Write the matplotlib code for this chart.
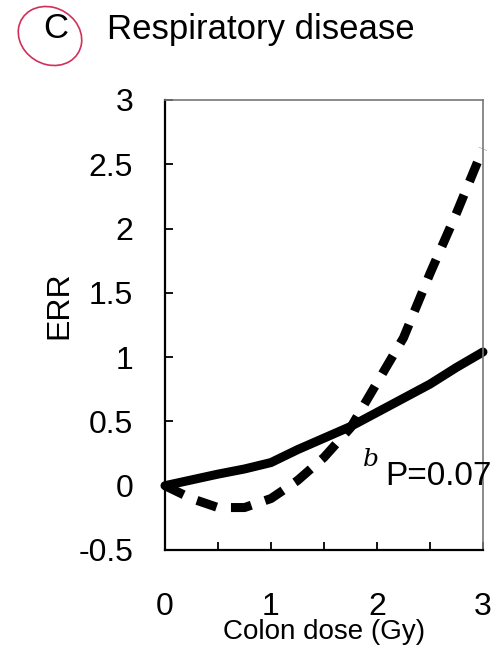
import matplotlib.pyplot as plt
from matplotlib.patches import Ellipse

# dose (Gy) and excess relative risk
dose = [0, 0.25, 0.5, 0.75, 1.0, 1.25, 1.5, 1.75, 2.0, 2.25, 2.5, 2.75, 3.0]
err_solid = [0, 0.045, 0.09, 0.13, 0.18, 0.28, 0.37, 0.46, 0.57, 0.68, 0.79, 0.92, 1.04]
err_dashed = [0, -0.1, -0.17, -0.17, -0.1, 0.04, 0.22, 0.45, 0.8, 1.15, 1.65, 2.12, 2.62]

yticks = [-0.5, 0, 0.5, 1, 1.5, 2, 2.5, 3]
ytick_labels = ['-0.5', '0', '0.5', '1', '1.5', '2', '2.5', '3']
xticks = [0, 0.5, 1, 1.5, 2, 2.5, 3]
xtick_labels = ['0', '', '1', '', '2', '', '3']

plt.rcParams['font.family'] = ['Liberation Sans', 'DejaVu Sans']

fig = plt.figure(figsize=(4.95, 6.6), dpi=100)
ax = fig.add_axes([0.3333, 0.1667, 0.6424, 0.6818])

ax.plot(dose, err_solid, color='black', lw=6.5, solid_capstyle='round', clip_on=False)
ax.plot(dose, err_dashed, color='black', lw=6.5, dashes=(2.3, 1.6),
        dash_capstyle='butt', clip_on=False)

ax.set_xlim(0, 3)
ax.set_ylim(-0.5, 3)
ax.set_yticks(yticks)
ax.set_yticklabels(ytick_labels)
ax.set_xticks(xticks)
ax.set_xticklabels(xtick_labels)
ax.tick_params(axis='y', direction='in', length=6, width=1.3, labelsize=23, pad=23)
ax.tick_params(axis='x', direction='in', length=6, width=1.3, labelsize=23, pad=30)

for side in ['left', 'bottom']:
    ax.spines[side].set_linewidth(1.6)
    ax.spines[side].set_color('black')
for side in ['top', 'right']:
    ax.spines[side].set_linewidth(1.2)
    ax.spines[side].set_color('#777777')

ax.set_xlabel('Colon dose (Gy)', fontsize=20, labelpad=-2)
ax.set_ylabel('ERR', fontsize=23)
ax.yaxis.set_label_coords(-0.285, 0.545)

# p-value annotation
ax.text(3.08, 0.07, 'P=0.07', fontsize=24, ha='right', va='center', clip_on=False)
ax.text(1.94, 0.2, 'b', fontsize=18, family='DejaVu Serif', style='italic',
        ha='center', va='center')

# panel letter and title
fig.text(56 / 495, 1 - 28 / 660, 'C', fontsize=25, ha='center', va='center')
fig.text(107 / 495, 1 - 30 / 660, 'Respiratory disease', fontsize=25, ha='left', va='center')
fig.patches.append(Ellipse((50 / 495, 1 - 36 / 660), 64 / 495, 58 / 660, angle=-10,
                           transform=fig.transFigure, fill=False,
                           edgecolor='#d0305a', lw=1.2))

fig.savefig('out.png', dpi=100)
